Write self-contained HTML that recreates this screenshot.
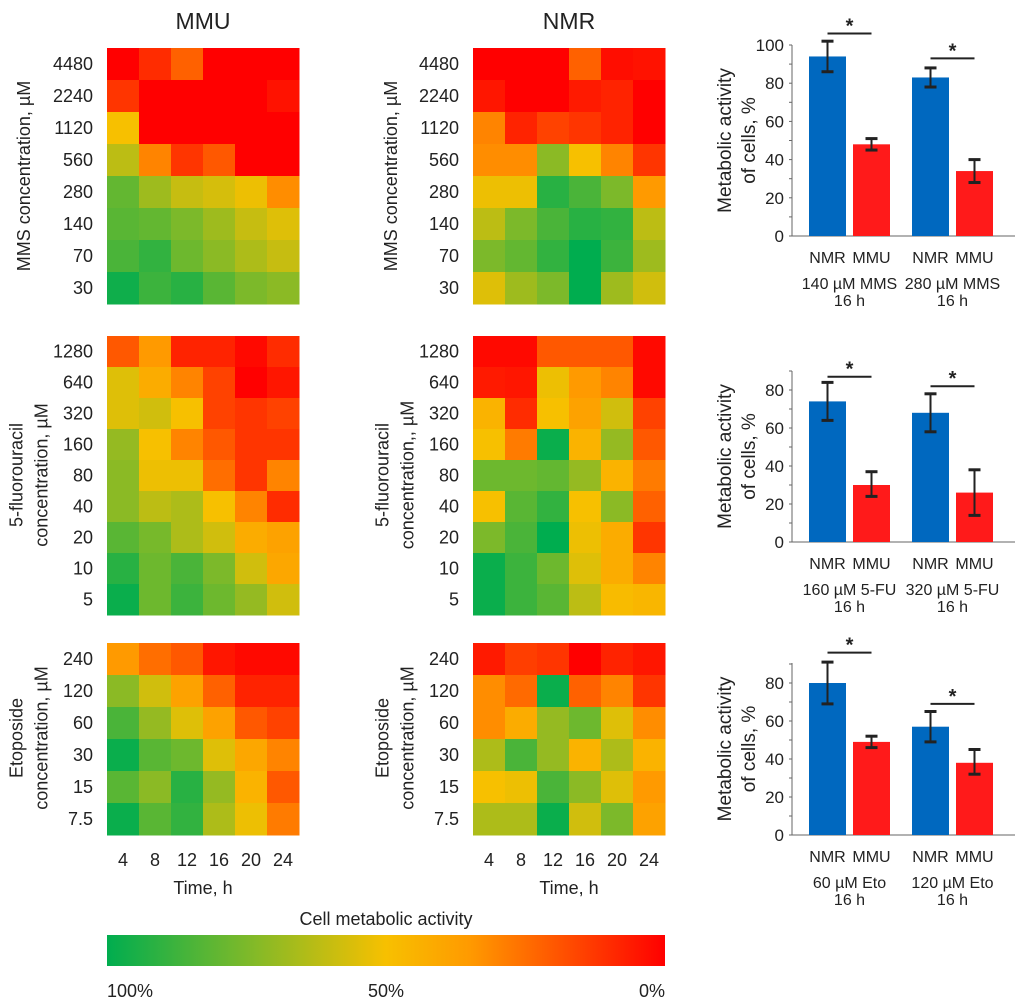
<!DOCTYPE html>
<html><head><meta charset="utf-8"><style>
body{margin:0;background:#fff;}
svg{display:block;font-family:"Liberation Sans",Arial,sans-serif;}
</style></head><body>
<svg id="fig" width="1020" height="1002" viewBox="0 0 1020 1002">
<defs>
<linearGradient id="cbar" x1="0" x2="1" y1="0" y2="0">
<stop offset="0" stop-color="#00ad4f"/><stop offset="0.25" stop-color="#7cb92a"/>
<stop offset="0.5" stop-color="#f7c000"/><stop offset="0.65" stop-color="#ff9a00"/>
<stop offset="1" stop-color="#ff0000"/></linearGradient>
</defs>
</svg>
<script>
const timeLabels=["4","8","12","16","20","24"];
const mmsConc=["4480","2240","1120","560","280","140","70","30"];
const fuConc=["1280","640","320","160","80","40","20","10","5"];
const etoConc=["240","120","60","30","15","7.5"];
const mmuMMS=[[0,10,22,0,0,0],[12,0,0,0,0,4],[50,0,0,0,0,0],[62,30,12,20,0,0],[80,68,60,57,52,32],[82,80,75,68,60,55],[85,90,78,72,65,60],[97,88,92,82,75,72]];
const nmrMMS=[[0,0,0,22,3,4],[5,0,0,6,8,0],[30,8,15,12,8,0],[32,32,72,50,30,12],[52,52,92,85,75,35],[62,75,85,92,90,62],[75,80,90,100,88,68],[55,68,75,100,68,58]];
const mmuFU=[[20,35,8,8,2,10],[55,42,30,15,0,5],[55,58,50,15,12,15],[70,50,30,20,12,12],[72,52,52,25,12,30],[72,62,65,50,30,10],[82,76,65,58,42,38],[92,78,85,75,58,40],[98,78,88,78,70,58]];
const nmrFU=[[2,2,20,20,20,2],[6,5,52,35,30,2],[45,10,50,38,58,15],[50,28,98,45,70,20],[78,78,80,70,45,28],[50,82,90,50,72,22],[75,85,100,52,42,12],[98,88,78,55,42,30],[98,88,82,62,48,46]];
const mmuEto=[[35,25,20,5,2,2],[72,58,38,22,8,8],[85,70,55,38,20,15],[98,82,78,55,40,30],[82,72,92,70,45,20],[98,82,90,65,52,28]];
const nmrEto=[[6,14,12,0,8,5],[32,24,98,22,30,12],[32,42,70,78,55,32],[65,85,70,45,65,45],[50,52,85,72,55,35],[65,65,98,58,75,38]];
const barGroups1=["140 µM MMS","280 µM MMS"];
const barGroups2=["160 µM 5-FU","320 µM 5-FU"];
const barGroups3=["60 µM Eto","120 µM Eto"];
const bars1=[94,48,83,34];const err1=[[86,102],[45,51],[78,88],[28,40]];const sig1=[106,93];
const bars2=[74,30,68,26];const err2=[[64,84],[24,37],[58,78],[14,38]];const sig2=[87,82];
const bars3=[80,49,57,38];const err3=[[69,91],[46,52],[49,65],[32,45]];const sig3=[96,69];
const yTicks1=[0,20,40,60,80,100];const yTicks2=[0,20,40,60,80];

const S=document.getElementById('fig');const NS='http://www.w3.org/2000/svg';
function el(t,a,txt){const e=document.createElementNS(NS,t);for(const k in a)e.setAttribute(k,a[k]);if(txt!=null)e.textContent=txt;S.appendChild(e);return e;}
const stops=[[100,[0,173,79]],[75,[124,185,42]],[50,[247,192,0]],[35,[255,154,0]],[0,[255,0,0]]];
function color(v){for(let i=0;i<stops.length-1;i++){const a=stops[i],b=stops[i+1];if(v<=a[0]&&v>=b[0]){const t=(a[0]-v)/(a[0]-b[0]);const c=a[1].map((x,j)=>Math.round(x+(b[1][j]-x)*t));return 'rgb('+c.join(',')+')';}}return 'rgb(255,0,0)';}

function heatmap(name,data,rows,x0,y0,w,h){
  const nr=rows.length,nc=6,cw=w/nc,ch=h/nr;
  data.forEach((row,r)=>row.forEach((v,c)=>{
    const e=el('rect',{x:x0+c*cw,y:y0+r*ch,width:cw+0.5,height:ch+0.5,fill:color(v)});
    
    
  }));
  rows.forEach((t,r)=>{const e=el('text',{x:x0-14,y:y0+r*ch+ch/2+6,'text-anchor':'end','font-size':18,fill:'#222'},t);
    });
}
function ylab(lines,cx,cy,name){lines.forEach((l,i)=>{const x=cx+(i-(lines.length-1)/2)*25;
  const e=el('text',{x:x,y:cy,'text-anchor':'middle','font-size':18,fill:'#222',transform:'rotate(-90 '+x+' '+cy+')',dy:6},l);
  });}

el('text',{x:203,y:29,'text-anchor':'middle','font-size':23,fill:'#222',},'MMU');
el('text',{x:569,y:29,'text-anchor':'middle','font-size':23,fill:'#222',},'NMR');

heatmap('mmu-mms',mmuMMS,mmsConc,107,48,192,256);
heatmap('nmr-mms',nmrMMS,mmsConc,473,48,192,256);
heatmap('mmu-fu',mmuFU,fuConc,107,336,192,279);
heatmap('nmr-fu',nmrFU,fuConc,473,336,192,279);
heatmap('mmu-eto',mmuEto,etoConc,107,643,192,192);
heatmap('nmr-eto',nmrEto,etoConc,473,643,192,192);
ylab(['MMS concentration, µM'],24,176,'mms-axis-title');
ylab(['MMS concentration, µM'],391,176,'mms-axis-title');
ylab(['5-fluorouracil','concentration, µM'],29,475,'fu-axis-title');
ylab(['5-fluorouracil','concentration,, µM'],395,475,'fu-axis-title');
ylab(['Etoposide','concentration, µM'],29,738,'eto-axis-title');
ylab(['Etoposide','concentration, µM'],395,738,'eto-axis-title');
[107,473].forEach(x0=>{timeLabels.forEach((t,i)=>{const e=el('text',{x:x0+16+i*32,y:866,'text-anchor':'middle','font-size':18,fill:'#222'},t);
  });
  el('text',{x:x0+96,y:894,'text-anchor':'middle','font-size':18,fill:'#222',},'Time, h');});

el('text',{x:386,y:925,'text-anchor':'middle','font-size':18,fill:'#222',},'Cell metabolic activity');
el('rect',{x:107,y:935,width:558,height:31,fill:'url(#cbar)',});
el('text',{x:107,y:997,'font-size':18,fill:'#222',},'100%');
el('text',{x:386,y:997,'text-anchor':'middle','font-size':18,fill:'#222',},'50%');
el('text',{x:665,y:997,'text-anchor':'end','font-size':18,fill:'#222',},'0%');

function barChart(id,vals,errs,sig,ticks,groups,y0,scale,top){
  const yv=v=>y0-v*scale;const ax=792;
  const xs=[809,853,912,956],bw=37,cols=['#0068bf','#ff1a1a'],lbl=['NMR','MMU','NMR','MMU'];
  el('line',{x1:ax,y1:top,x2:ax,y2:y0,stroke:'#666','stroke-width':1});
  el('line',{x1:ax,y1:y0,x2:1015,y2:y0,stroke:'#666','stroke-width':1});
  for(let v=0;yv(v)>=top-0.5;v+=10){el('line',{x1:ax-3,y1:yv(v),x2:ax,y2:yv(v),stroke:'#666'});}
  ticks.forEach(t=>{const e=el('text',{x:784,y:yv(t)+6,'text-anchor':'end','font-size':17,fill:'#222'},String(t));
    });
  vals.forEach((v,i)=>{const e=el('rect',{x:xs[i],y:yv(v),width:bw,height:v*scale,fill:cols[i%2]});
    
    const cx=xs[i]+bw/2,[lo,hi]=errs[i];
    el('line',{x1:cx,y1:yv(lo),x2:cx,y2:yv(hi),stroke:'#222','stroke-width':2});
    el('line',{x1:cx-6,y1:yv(lo),x2:cx+6,y2:yv(lo),stroke:'#222','stroke-width':3});
    el('line',{x1:cx-6,y1:yv(hi),x2:cx+6,y2:yv(hi),stroke:'#222','stroke-width':3});
    const t=el('text',{x:cx,y:y0+27,'text-anchor':'middle','font-size':16,fill:'#222'},lbl[i]);
    });
  sig.forEach((s,g)=>{const x1=xs[g*2]+bw/2,x2=xs[g*2+1]+bw/2;
    el('line',{x1:x1,y1:yv(s),x2:x2,y2:yv(s),stroke:'#222','stroke-width':2});
    const e=el('text',{x:(x1+x2)/2,y:yv(s)-1,'text-anchor':'middle','font-size':20,'font-weight':'bold',fill:'#222'},'*');
    });
  groups.forEach((g,i)=>{const cx=(xs[i*2]+xs[i*2+1]+bw)/2;
    const e=el('text',{x:cx,y:y0+53,'text-anchor':'middle','font-size':16,fill:'#222'},g);
    
    el('text',{x:cx,y:y0+70,'text-anchor':'middle','font-size':16,fill:'#222'},'16 h');});
  const my=(top+y0)/2;
  [['Metabolic activity',725],['of cells, %',749]].forEach(([t,x])=>{const e=el('text',{x:x,y:my,'text-anchor':'middle','font-size':19,fill:'#222',transform:'rotate(-90 '+x+' '+my+')',dy:6},t);
    });
}
barChart('mms-bars',bars1,err1,sig1,yTicks1,barGroups1,236,1.91,45);
barChart('fu-bars',bars2,err2,sig2,yTicks2,barGroups2,542,1.9,371);
barChart('eto-bars',bars3,err3,sig3,yTicks2,barGroups3,835,1.9,663);
</script>
</body></html>
